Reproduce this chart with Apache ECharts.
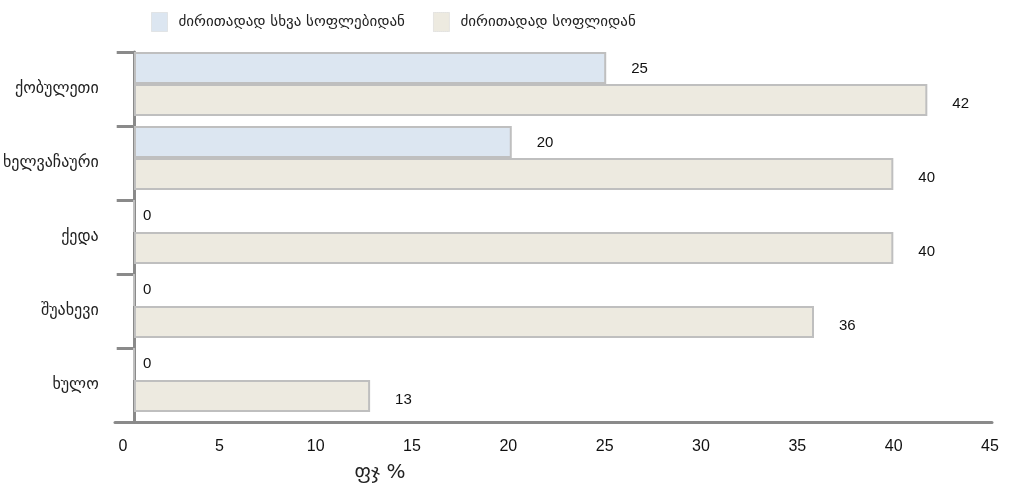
<!DOCTYPE html>
<html>
<head>
<meta charset="utf-8">
<script src="https://cdn.jsdelivr.net/npm/echarts@6/dist/echarts.min.js"></script>
<style>
html,body{margin:0;padding:0;background:#fff;}
#c{width:1009px;height:486px;}
</style>
</head>
<body>
<div id="c"></div>
<script>
const categories = ['ქობულეთი', 'ხელვაჩაური', 'ქედა', 'შუახევი', 'ხულო'];
const seriesNames = ['ძირითადად სხვა სოფლებიდან', 'ძირითადად სოფლიდან'];
const otherVillages = [25, 20, 0, 0, 0];
const ownVillage = [42, 40.2, 40.2, 36, 12.5];
const axisMin = 0, axisMax = 45, axisStep = 5;
const axisName = 'ფჯ %';

const geo = '"DejaVu Sans", sans-serif';
const num = '"Liberation Sans", Arial, sans-serif';
const axisColor = '#8a8a8a';

function toData(vals, dy) {
  return vals.map(v => ({
    value: v,
    label: { distance: v === 0 ? 8 : 25, offset: [0, v === 0 ? 0 : dy] }
  }));
}

const chart = echarts.init(document.getElementById('c'), null, { renderer: 'canvas' });
chart.setOption({
  animation: false,
  backgroundColor: '#ffffff',
  legend: {
    data: seriesNames,
    left: 151, top: 12, padding: 0,
    icon: 'rect',
    itemWidth: 16, itemHeight: 19,
    itemGap: 28,
    textStyle: { fontFamily: geo, fontSize: 15, color: '#222', padding: [0, 0, 0, 6] },
    itemStyle: { borderColor: '#d4d4d4', borderWidth: 1, borderType: 'dotted' }
  },
  grid: [
    { left: 134, right: 25, top: 47, height: 370 },
    { left: 133, right: 25, top: 52, height: 370 },
    { left: 115, right: 17, top: 52, height: 370 },
    { left: 123, right: 19, top: 52, height: 370 }
  ],
  xAxis: [
    { gridIndex: 0, type: 'value', min: axisMin, max: axisMax, interval: axisStep, show: false },
    { gridIndex: 1, type: 'value', min: axisMin, max: axisMax, interval: axisStep, show: false },
    { gridIndex: 2, type: 'value', min: axisMin, max: axisMax, interval: axisStep,
      axisLine: { show: true, lineStyle: { color: axisColor, width: 3 } },
      axisTick: { show: false }, axisLabel: { show: false }, splitLine: { show: false } },
    { gridIndex: 3, type: 'value', min: axisMin, max: axisMax, interval: axisStep,
      axisLine: { show: false }, axisTick: { show: false }, splitLine: { show: false },
      axisLabel: { show: true, margin: 17, fontFamily: num, fontSize: 16, color: '#111' } }
  ],
  yAxis: [
    { gridIndex: 0, type: 'category', data: categories, inverse: true, show: false },
    { gridIndex: 1, type: 'category', data: categories, inverse: true,
      axisLine: { show: true, lineStyle: { color: axisColor, width: 3 } },
      axisTick: { show: true, length: 18, lineStyle: { color: axisColor, width: 3 } },
      axisLabel: { margin: 36, fontFamily: geo, fontSize: 16, color: '#222', padding: [0, 0, 6, 0] },
      splitLine: { show: false } },
    { gridIndex: 2, type: 'category', data: categories, show: false },
    { gridIndex: 3, type: 'category', data: categories, show: false }
  ],
  series: [
    {
      type: 'bar', name: seriesNames[0], xAxisIndex: 0, yAxisIndex: 0,
      data: toData(otherVillages, 1),
      barWidth: 32, barGap: '0%',
      itemStyle: { color: '#dce6f1', borderColor: '#bfbfbf', borderWidth: 2 },
      label: { show: true, position: 'right', fontFamily: num, fontSize: 15, color: '#111',
        formatter: p => String(Math.round(p.value)) }
    },
    {
      type: 'bar', name: seriesNames[1], xAxisIndex: 0, yAxisIndex: 0,
      data: toData(ownVillage, 4),
      barWidth: 32, barGap: '0%',
      itemStyle: { color: '#edeae0', borderColor: '#bfbfbf', borderWidth: 2 },
      label: { show: true, position: 'right', fontFamily: num, fontSize: 15, color: '#111',
        formatter: p => String(Math.round(p.value)) }
    }
  ],
  graphic: [
    { type: 'text', x: 380, y: 473, z: 10,
      style: { text: axisName, align: 'center', verticalAlign: 'middle',
        fontFamily: geo, fontSize: 20, fill: '#222' } }
  ]
});
</script>
</body>
</html>
